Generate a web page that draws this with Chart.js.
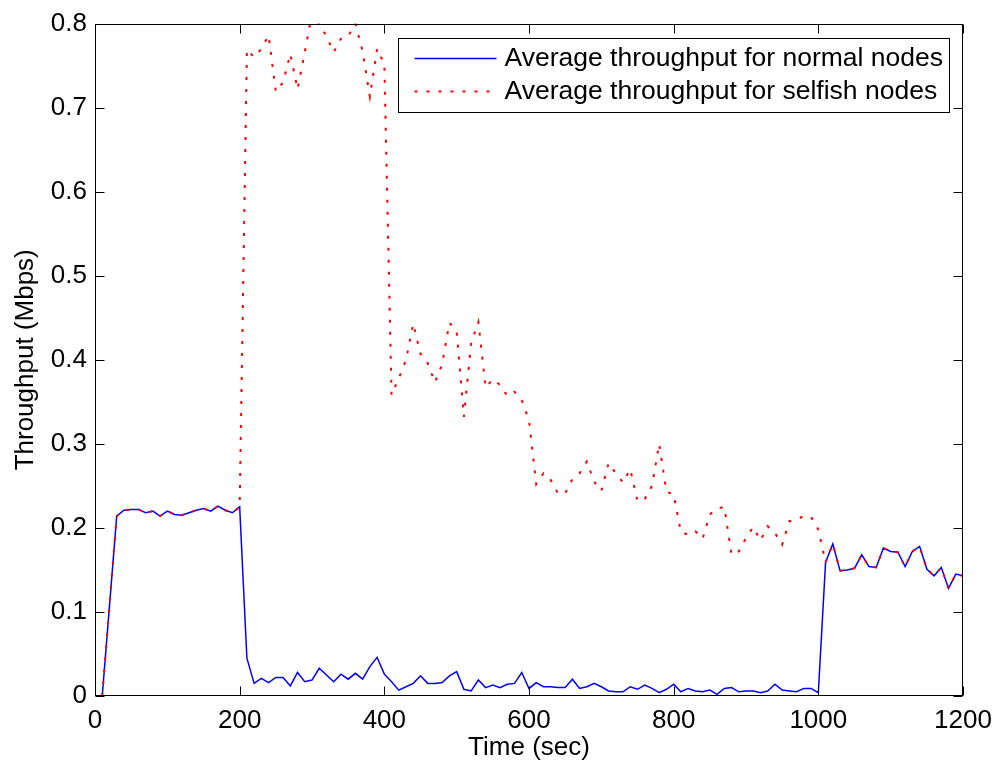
<!DOCTYPE html>
<html>
<head>
<meta charset="utf-8">
<title>Average throughput</title>
<script src="https://cdn.jsdelivr.net/npm/chart.js@4.4.1/dist/chart.umd.min.js"></script>
<style>
  html, body { margin: 0; padding: 0; background: #fff; }
  canvas { display: block; }
</style>
</head>
<body>
<canvas id="chart" width="997" height="766"></canvas>
<script>
// sample times (sec)
const times = [
  10, 20, 30, 40, 50, 60, 70, 80, 90, 100,
  110, 120, 130, 140, 150, 160, 170, 180, 190, 200,
  210, 220, 230, 240, 250, 260, 270, 280, 290, 300,
  310, 320, 330, 340, 350, 360, 370, 380, 390, 400,
  410, 420, 430, 440, 450, 460, 470, 480, 490, 500,
  510, 520, 530, 540, 550, 560, 570, 580, 590, 600,
  610, 620, 630, 640, 650, 660, 670, 680, 690, 700,
  710, 720, 730, 740, 750, 760, 770, 780, 790, 800,
  810, 820, 830, 840, 850, 860, 870, 880, 890, 900,
  910, 920, 930, 940, 950, 960, 970, 980, 990, 1000,
  1010, 1020, 1030, 1040, 1050, 1060, 1070, 1080, 1090, 1100,
  1110, 1120, 1130, 1140, 1150, 1160, 1170, 1180, 1190, 1200
];

// Mbps
const normalNodes = [
  0, 0.107, 0.214, 0.221, 0.222, 0.222, 0.218, 0.220, 0.214, 0.220,
  0.216, 0.215, 0.218, 0.221, 0.223, 0.220, 0.226, 0.221, 0.218, 0.225,
  0.045, 0.015, 0.021, 0.016, 0.022, 0.022, 0.012, 0.028, 0.017, 0.019,
  0.033, 0.025, 0.017, 0.026, 0.020, 0.027, 0.020, 0.035, 0.046, 0.026,
  0.017, 0.007, 0.011, 0.015, 0.024, 0.015, 0.015, 0.016, 0.024, 0.029,
  0.008, 0.006, 0.019, 0.010, 0.013, 0.010, 0.014, 0.015, 0.028, 0.009,
  0.016, 0.011, 0.011, 0.010, 0.010, 0.020, 0.009, 0.011, 0.015, 0.011,
  0.006, 0.005, 0.005, 0.011, 0.008, 0.013, 0.009, 0.004, 0.008, 0.014,
  0.005, 0.009, 0.006, 0.005, 0.007, 0.002, 0.009, 0.010, 0.005, 0.006,
  0.006, 0.004, 0.006, 0.014, 0.007, 0.006, 0.005, 0.009, 0.009, 0.004,
  0.159, 0.181, 0.149, 0.150, 0.152, 0.168, 0.154, 0.153, 0.176, 0.172,
  0.171, 0.154, 0.172, 0.178, 0.151, 0.143, 0.153, 0.128, 0.145, 0.143
];

const selfishNodes = [
  0, 0.107, 0.214, 0.221, 0.222, 0.222, 0.218, 0.220, 0.214, 0.220,
  0.216, 0.215, 0.218, 0.221, 0.223, 0.220, 0.226, 0.221, 0.218, 0.225,
  0.769, 0.760, 0.770, 0.786, 0.719, 0.730, 0.764, 0.722, 0.766, 0.812,
  0.800, 0.785, 0.766, 0.782, 0.785, 0.800, 0.767, 0.713, 0.770, 0.752,
  0.358, 0.378, 0.400, 0.443, 0.407, 0.396, 0.373, 0.395, 0.444, 0.434,
  0.332, 0.420, 0.445, 0.367, 0.377, 0.370, 0.357, 0.362, 0.352, 0.328,
  0.252, 0.265, 0.257, 0.241, 0.241, 0.258, 0.265, 0.279, 0.255, 0.244,
  0.277, 0.265, 0.254, 0.270, 0.232, 0.234, 0.250, 0.300, 0.243, 0.240,
  0.195, 0.192, 0.196, 0.187, 0.216, 0.223, 0.225, 0.168, 0.172, 0.188,
  0.201, 0.185, 0.202, 0.194, 0.180, 0.208, 0.210, 0.214, 0.213, 0.198,
  0.159, 0.181, 0.149, 0.150, 0.152, 0.168, 0.154, 0.153, 0.176, 0.172,
  0.171, 0.154, 0.172, 0.178, 0.151, 0.143, 0.153, 0.128, 0.145, 0.143
];

const xTicks = [0, 200, 400, 600, 800, 1000, 1200];
const yTicks = [0, 0.1, 0.2, 0.3, 0.4, 0.5, 0.6, 0.7, 0.8];

const FONT = "'Liberation Sans', Arial, Helvetica, sans-serif";
const DOTS = [3, 9];

Chart.defaults.font.family = FONT;
Chart.defaults.color = '#000';

// matlab style box with inward ticks on all four sides
const axesBox = {
  id: 'axesBox',
  afterDatasetsDraw(chart) {
    const { ctx, chartArea: a, scales } = chart;
    const L = Math.round(a.left) + 0.5, R = Math.round(a.right) - 0.5;
    const T = Math.round(a.top) + 0.5, B = Math.round(a.bottom) - 0.5;
    const len = 9;
    ctx.save();
    ctx.strokeStyle = '#000';
    ctx.lineWidth = 1;
    ctx.beginPath();
    scales.x.ticks.forEach(t => {
      const px = Math.round(scales.x.getPixelForValue(t.value)) + 0.5;
      ctx.moveTo(px, B); ctx.lineTo(px, B - len);
      ctx.moveTo(px, T); ctx.lineTo(px, T + len);
    });
    scales.y.ticks.forEach(t => {
      const py = Math.round(scales.y.getPixelForValue(t.value)) + 0.5;
      ctx.moveTo(L, py); ctx.lineTo(L + len, py);
      ctx.moveTo(R, py); ctx.lineTo(R - len, py);
    });
    ctx.stroke();
    ctx.strokeRect(L, T, R - L, B - T);
    ctx.restore();
  }
};

// legend box inside the upper right corner
const boxLegend = {
  id: 'boxLegend',
  afterDraw(chart) {
    const { ctx, chartArea: a } = chart;
    const sets = chart.data.datasets;
    ctx.save();
    ctx.font = '26.5px ' + FONT;
    const textW = Math.max(...sets.map(d => ctx.measureText(d.label).width));
    const right = Math.round(a.right) - 13.5;
    const top = Math.round(a.top) + 14.5;
    const rowH = 33, sample = 82;
    const left = Math.round(right - textW - sample - 31) + 0.5;
    const bottom = top + rowH * sets.length + 8;
    ctx.fillStyle = '#fff';
    ctx.fillRect(left, top, right - left, bottom - top);
    ctx.strokeStyle = '#000';
    ctx.lineWidth = 1;
    ctx.strokeRect(left, top, right - left, bottom - top);
    sets.forEach((d, i) => {
      const cy = top + 20 + i * rowH;
      ctx.beginPath();
      ctx.strokeStyle = d.borderColor;
      ctx.lineWidth = d.borderWidth;
      ctx.setLineDash(d.borderDash || []);
      ctx.moveTo(left + 16, cy);
      ctx.lineTo(left + 16 + sample, cy);
      ctx.stroke();
      ctx.setLineDash([]);
      ctx.fillStyle = '#000';
      ctx.textAlign = 'left';
      ctx.textBaseline = 'middle';
      ctx.fillText(d.label, left + sample + 24, cy);
    });
    ctx.restore();
  }
};

new Chart(document.getElementById('chart'), {
  type: 'line',
  data: {
    datasets: [{
      label: 'Average throughput for normal nodes',
      data: times.map((t, i) => ({ x: t, y: normalNodes[i] })),
      borderColor: '#0000ff',
      borderWidth: 1.5,
      pointRadius: 0,
      tension: 0,
      order: 1
    }, {
      label: 'Average throughput for selfish nodes',
      data: times.map((t, i) => ({ x: t, y: selfishNodes[i] })),
      borderColor: '#ff0000',
      borderWidth: 2,
      borderDash: DOTS,
      pointRadius: 0,
      tension: 0,
      order: 0
    }]
  },
  options: {
    responsive: false,
    animation: false,
    devicePixelRatio: 1,
    layout: { padding: { top: 21, right: 34, left: 0, bottom: 0 } },
    plugins: { legend: { display: false }, tooltip: { enabled: false } },
    scales: {
      x: {
        type: 'linear',
        min: 0,
        max: 1200,
        afterBuildTicks: s => { s.ticks = xTicks.map(v => ({ value: v })); },
        afterFit: s => { s.height = 70; s.paddingRight = 0; s.paddingLeft = 0; },
        grid: { display: false, drawTicks: false },
        border: { display: false },
        ticks: { font: { size: 26 }, padding: 9, maxRotation: 0, callback: v => String(v) },
        title: { display: true, text: 'Time (sec)', font: { size: 26 }, padding: { top: 0, bottom: 3 } }
      },
      y: {
        type: 'linear',
        min: 0,
        max: 0.8,
        afterBuildTicks: s => { s.ticks = yTicks.map(v => ({ value: v })); },
        afterFit: s => { s.width = 95; },
        grid: { display: false, drawTicks: false },
        border: { display: false },
        ticks: { font: { size: 26 }, padding: 8, callback: v => String(v) },
        title: { display: true, text: 'Throughput (Mbps)', font: { size: 26 }, padding: { top: 10, bottom: 0 } }
      }
    }
  },
  plugins: [axesBox, boxLegend]
});
</script>
</body>
</html>
